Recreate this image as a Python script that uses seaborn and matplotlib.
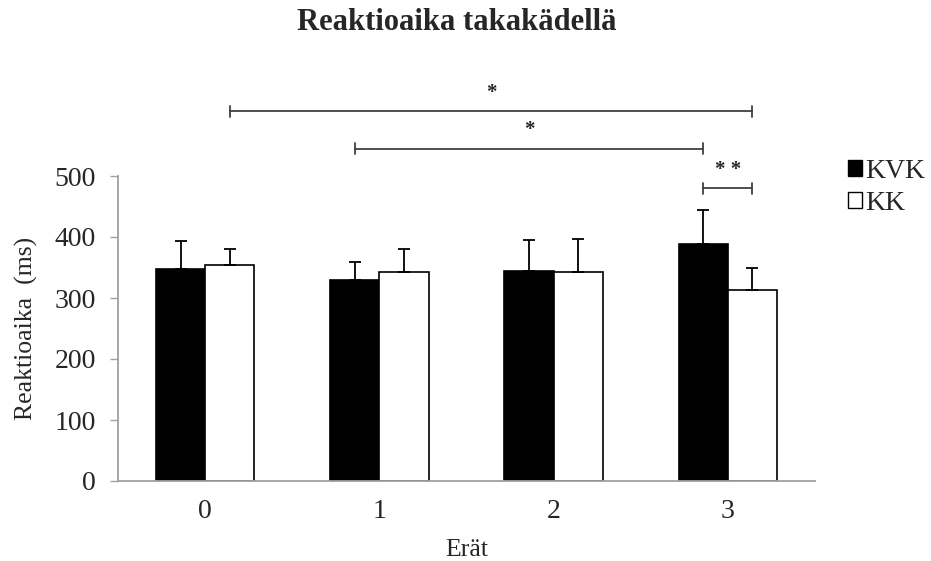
import numpy as np
import pandas as pd
import matplotlib
matplotlib.use('Agg')
import matplotlib.pyplot as plt
import seaborn as sns

# ─────────────────────────────────────────
# Data
# ─────────────────────────────────────────
erat = ['0', '1', '2', '3']
ryhmat = ['KVK', 'KK']
kvk_mean = [347, 330, 345, 388]
kk_mean = [354, 343, 343, 313]
kvk_sd = [46, 29, 50, 56]
kk_sd = [27, 38, 54, 37]

# significance brackets: (group a, era a, group b, era b, height, label)
brackets = [
    ('KK', 0, 'KK', 3, 606, '*'),
    ('KVK', 1, 'KVK', 3, 545, '*'),
    ('KVK', 3, 'KK', 3, 480, '* *'),
]

df = pd.DataFrame({
    'Erät': erat * 2,
    'Ryhmä': ['KVK'] * 4 + ['KK'] * 4,
    'Reaktioaika': kvk_mean + kk_mean,
})

sns.set_style('white')
plt.rcParams['font.family'] = ['Liberation Serif', 'DejaVu Serif']

fig = plt.figure(figsize=(9.31, 5.61), dpi=100)
ax = fig.add_axes([118 / 931, 80 / 561, 697 / 931, 305 / 561])

sns.barplot(data=df, x='Erät', y='Reaktioaika', hue='Ryhmä',
            hue_order=ryhmat, palette=['black', 'white'],
            edgecolor='black', linewidth=1.2, width=0.565,
            errorbar=None, ax=ax)

# upper error bars only
sds = {'KVK': kvk_sd, 'KK': kk_sd}
means = {'KVK': kvk_mean, 'KK': kk_mean}
centers = {}
for cont, g in zip(ax.containers, ryhmat):
    xs = [p.get_x() + p.get_width() / 2 for p in cont]
    centers[g] = xs
    ax.errorbar(xs, means[g], yerr=[np.zeros(4), sds[g]], fmt='none',
                ecolor='black', elinewidth=1.3, capsize=4.5, capthick=1.3,
                zorder=3)

ax.set_ylim(0, 500)
ax.set_xlim(-0.5, 3.5)
ax.set_yticks([0, 100, 200, 300, 400, 500])
ax.tick_params(axis='y', length=6, width=1, color='#a0a0a0',
               direction='out', left=True, labelsize=20, pad=10)
ax.tick_params(axis='x', length=0, labelsize=20, pad=13)
for s in ['top', 'right']:
    ax.spines[s].set_visible(False)
for s in ['left', 'bottom']:
    ax.spines[s].set_color('#a0a0a0')
    ax.spines[s].set_linewidth(1.3)

ax.set_xlabel('Erät', fontsize=18.5, labelpad=11)
ax.set_ylabel('Reaktioaika  (ms)', fontsize=18.5, labelpad=12)

# significance brackets above the plot
for ga, ea, gb, eb, h, lab in brackets:
    x1, x2 = centers[ga][ea], centers[gb][eb]
    ax.plot([x1, x2], [h, h], color='#404040', lw=1.3, clip_on=False)
    for xx in (x1, x2):
        ax.plot([xx, xx], [h - 9, h + 9], color='#404040', lw=1.3,
                clip_on=False)
    ax.text((x1 + x2) / 2, h + 14, lab, ha='center', va='bottom',
            fontsize=15, fontweight='bold', clip_on=False)

leg = ax.legend(frameon=False, loc='upper left',
                bbox_to_anchor=(1.048, 1.055), fontsize=20,
                handlelength=0.5, handleheight=0.5,
                handletextpad=0.12, labelspacing=0.25,
                borderaxespad=0, borderpad=0)
for h in leg.legend_handles:
    h.set_edgecolor('black')
    h.set_linewidth(1.0)

fig.suptitle('Reaktioaika takakädellä', fontsize=22, fontweight='bold',
             x=457 / 931, y=0.986)

fig.savefig('out.png', dpi=100)
